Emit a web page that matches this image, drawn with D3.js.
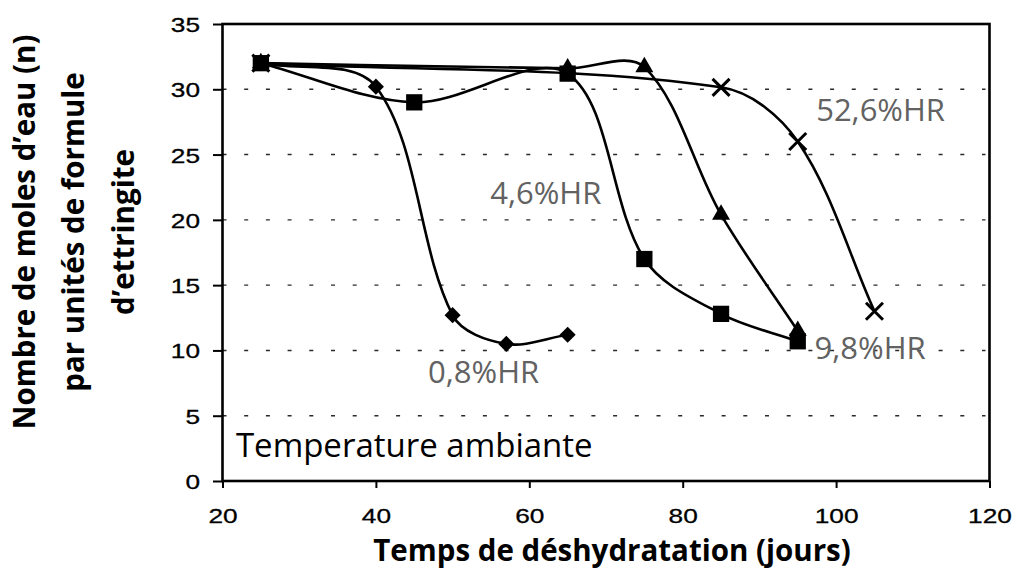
<!DOCTYPE html>
<html>
<head>
<meta charset="utf-8">
<script src="https://cdn.jsdelivr.net/npm/d3@7"></script>
<style>
  html, body { margin: 0; padding: 0; background: #fff; }
  svg { display: block; }
</style>
</head>
<body>
<svg id="chart" width="1014" height="572"></svg>
<script>
// ---------- data ----------
const xTicks = [20, 40, 60, 80, 100, 120];
const yTicks = [0, 5, 10, 15, 20, 25, 30, 35];
const gridValues = [5, 10, 15, 20, 25, 30];

const seriesNames = ["0,8%HR", "4,6%HR", "9,8%HR", "52,6%HR"];
const seriesMarkers = ["diamond", "square", "triangle", "cross"];

const days08 = [25, 40, 50, 57, 65];
const n08 = [32, 30.2, 12.7, 10.5, 11.2];

const days46 = [25, 45, 65, 75, 85, 95];
const n46 = [32, 29.0, 31.2, 17.0, 12.8, 10.7];

const days98 = [25, 65, 75, 85, 95];
const n98 = [32, 31.6, 31.7, 20.4, 11.5];

const days526 = [25, 85, 95, 105];
const n526 = [32, 30.15, 26.0, 13.0];

// label anchors (data coordinates: left x, baseline y)
const labelTexts = ["0,8%HR", "4,6%HR", "9,8%HR", "52,6%HR"];
const labelX = [46.8, 54.9, 97.2, 97.4];
const labelY = [7.5, 21.2, 9.35, 27.6];

const noteText = "Temperature ambiante";
const noteX = 21.75, noteY = 1.8;

const xTitle = "Temps de déshydratation (jours)";
const yTitleLines = ["Nombre de moles d’eau (n)", "par unités de formule", "d’ettringite"];

// ---------- spreadsheet-style smoothed curve (Bezier, length-weighted tangents) ----------
function SmoothCurve(context) { this._context = context; }
SmoothCurve.prototype = {
  areaStart() {}, areaEnd() {},
  lineStart() { this._pts = []; },
  point(x, y) { this._pts.push([+x, +y]); },
  lineEnd() {
    const p = this._pts, c = this._context, n = p.length;
    if (!n) return;
    c.moveTo(p[0][0], p[0][1]);
    const dist = (a, b) => Math.hypot(b[0] - a[0], b[1] - a[1]);
    for (let i = 0; i < n - 1; i++) {
      const p0 = p[Math.max(i - 1, 0)], p1 = p[i], p2 = p[i + 1], p3 = p[Math.min(i + 2, n - 1)];
      const d01 = dist(p0, p1), d12 = dist(p1, p2), d23 = dist(p2, p3);
      const f1 = (d01 + d12) > 0 ? d12 / (3 * (d01 + d12)) : 0;
      const f2 = (d12 + d23) > 0 ? d12 / (3 * (d12 + d23)) : 0;
      const c1 = [p1[0] + (p2[0] - p0[0]) * f1, p1[1] + (p2[1] - p0[1]) * f1];
      const c2 = [p2[0] - (p3[0] - p1[0]) * f2, p2[1] - (p3[1] - p1[1]) * f2];
      c.bezierCurveTo(c1[0], c1[1], c2[0], c2[1], p2[0], p2[1]);
    }
  }
};
const curveSmooth = ctx => new SmoothCurve(ctx);

// ---------- layout ----------
const svg = d3.select("#chart");
const pLeft = 222.5, pRight = 989.5, pTop = 24, pBottom = 481;

const x = d3.scaleLinear().domain([20, 120]).range([pLeft, pRight]);
const y = d3.scaleLinear().domain([0, 35]).range([pBottom, pTop]);

// grid
svg.append("g").selectAll("line").data(gridValues).join("line")
  .attr("x1", pLeft).attr("x2", pRight - 4)
  .attr("y1", d => y(d)).attr("y2", d => y(d))
  .attr("stroke", "#2a2a2a").attr("stroke-width", 1.4)
  .attr("stroke-dasharray", "4,17.7");

// axes
const tickFont = "'Liberation Sans', Arial, sans-serif";
const sx = 1.25;

const gx = svg.append("g").attr("transform", `translate(0,${pBottom})`)
  .call(d3.axisBottom(x).tickValues(xTicks).tickSize(7).tickSizeOuter(0).tickFormat(d3.format("d")));
gx.select(".domain").remove();
gx.selectAll(".tick line").attr("stroke", "#000").attr("stroke-width", 2);
gx.selectAll(".tick text")
  .attr("font-family", tickFont).attr("font-size", 21).attr("fill", "#000")
  .attr("stroke", "#000").attr("stroke-width", 0.3)
  .attr("y", 42.5).attr("dy", 0)
  .attr("transform", `scale(${sx},1)`);

const gy = svg.append("g").attr("transform", `translate(${pLeft},0)`)
  .call(d3.axisLeft(y).tickValues(yTicks).tickSize(9.5).tickSizeOuter(0).tickFormat(d3.format("d")));
gy.select(".domain").remove();
gy.selectAll(".tick line").attr("stroke", "#000").attr("stroke-width", 2);
gy.selectAll(".tick text")
  .attr("font-family", tickFont).attr("font-size", 21).attr("fill", "#000")
  .attr("stroke", "#000").attr("stroke-width", 0.3)
  .attr("x", -22.5 / sx).attr("dy", "0.36em")
  .attr("transform", `scale(${sx},1)`);

// frame
svg.append("rect")
  .attr("x", pLeft).attr("y", pTop)
  .attr("width", pRight - pLeft).attr("height", pBottom - pTop)
  .attr("fill", "none").attr("stroke", "#000").attr("stroke-width", 2.6);

// series
const series = [
  { name: seriesNames[0], marker: seriesMarkers[0], xs: days08, ys: n08 },
  { name: seriesNames[1], marker: seriesMarkers[1], xs: days46, ys: n46 },
  { name: seriesNames[2], marker: seriesMarkers[2], xs: days98, ys: n98 },
  { name: seriesNames[3], marker: seriesMarkers[3], xs: days526, ys: n526 }
];

const line = d3.line()
  .x(d => x(d[0])).y(d => y(d[1]))
  .curve(curveSmooth);

const gLines = svg.append("g");
series.forEach(s => {
  const pts = s.xs.map((v, i) => [v, s.ys[i]]);
  gLines.append("path").datum(pts)
    .attr("d", line)
    .attr("fill", "none").attr("stroke", "#000")
    .attr("stroke-width", 2.6).attr("stroke-linejoin", "round");
});

const gMarks = svg.append("g");
series.forEach(s => {
  const pts = s.xs.map((v, i) => [v, s.ys[i]]);
  const sel = gMarks.append("g").selectAll("path").data(pts).join("path")
    .attr("transform", d => `translate(${x(d[0])},${y(d[1])})`);
  if (s.marker === "square") {
    sel.attr("d", d3.symbol(d3.symbolSquare, 265)).attr("fill", "#000");
  } else if (s.marker === "diamond") {
    sel.attr("d", d3.symbol(d3.symbolSquare, 130))
      .attr("transform", d => `translate(${x(d[0])},${y(d[1])}) rotate(45)`)
      .attr("fill", "#000");
  } else if (s.marker === "triangle") {
    sel.attr("d", d3.symbol(d3.symbolTriangle, 140)).attr("fill", "#000");
  } else {
    sel.attr("d", "M-8.5,-8.5L8.5,8.5M-8.5,8.5L8.5,-8.5")
      .attr("fill", "none").attr("stroke", "#000").attr("stroke-width", 3);
  }
});

// labels
svg.append("g").selectAll("text").data(labelTexts).join("text")
  .attr("x", (d, i) => x(labelX[i])).attr("y", (d, i) => y(labelY[i]))
  .attr("font-family", "'Open Sans', sans-serif").attr("font-size", 31)
  .attr("fill", "#626262")
  .text(d => d);

svg.append("text")
  .attr("x", x(noteX)).attr("y", y(noteY))
  .attr("font-family", "'Open Sans', sans-serif").attr("font-size", 33)
  .attr("fill", "#000").text(noteText);

// axis titles
svg.append("text")
  .attr("x", 612).attr("y", 560.5).attr("text-anchor", "middle")
  .attr("font-family", "'Open Sans', sans-serif").attr("font-weight", 700)
  .attr("font-size", 29.5).attr("fill", "#000").text(xTitle);

const yt = svg.append("text")
  .attr("transform", "translate(0,232) rotate(-90)")
  .attr("text-anchor", "middle")
  .attr("font-family", "'Open Sans', sans-serif").attr("font-weight", 700)
  .attr("font-size", 29.5).attr("fill", "#000");
yTitleLines.forEach((t, i) => {
  yt.append("tspan").attr("x", 0).attr("y", 34.5 + i * 49.5).text(t);
});
</script>
</body>
</html>
